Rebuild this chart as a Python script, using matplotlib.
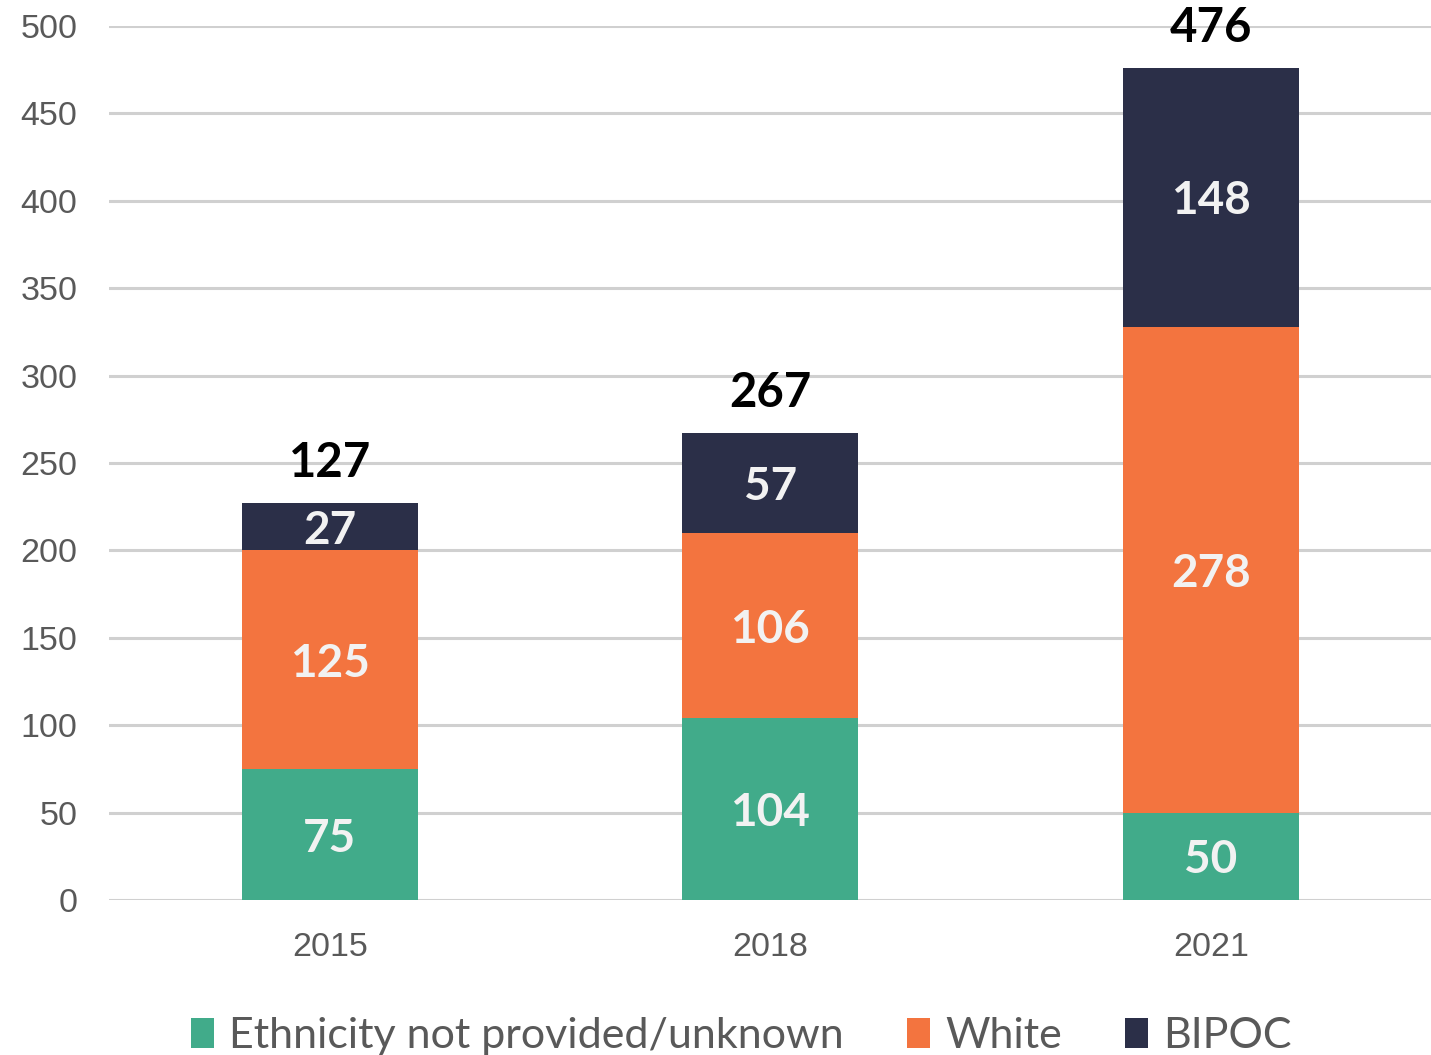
import matplotlib
matplotlib.use("Agg")
import matplotlib.pyplot as plt
from matplotlib.patches import Patch
import numpy as np

years = ["2015", "2018", "2021"]
unknown = [75, 104, 50]
white = [125, 106, 278]
bipoc = [27, 57, 148]
totals_text = ["127", "267", "476"]
series_names = ["Ethnicity not provided/unknown", "White", "BIPOC"]
colors = ["#41AB8A", "#F3743F", "#2B2F48"]

fig = plt.figure(figsize=(14.31, 10.55), dpi=100)
ax = fig.add_axes([0.0765, 0.1469, 0.9235, 0.8285])

x = np.arange(len(years))
width = 0.4
bottom = np.zeros(len(years))
for vals, col in zip([unknown, white, bipoc], colors):
    vals = np.array(vals, dtype=float)
    ax.bar(x, vals, width, bottom=bottom, color=col, zorder=3)
    for xi, b, v in zip(x, bottom, vals):
        ax.annotate(f"{int(v)}", (xi, b + v / 2), xytext=(0, -3),
                    textcoords="offset points", ha="center", va="center",
                    fontsize=33, fontweight="bold", family="Lato",
                    color="#F2F2F2", zorder=4)
    bottom += vals

for xi, top, lab in zip(x, bottom, totals_text):
    ax.annotate(lab, (xi, top), xytext=(0, 13), textcoords="offset points",
                ha="center", va="bottom", fontsize=34, fontweight="bold",
                family="Lato", color="black", annotation_clip=False)

ax.set_xlim(-0.5, 2.5)
ax.set_ylim(0, 500)
ax.set_yticks(np.arange(0, 501, 50))
ax.set_xticks(x)
ax.set_xticklabels(years)
ax.yaxis.grid(True, color="#D0D0D0", linewidth=2.2, zorder=0)
ax.set_axisbelow(True)
for s in ax.spines.values():
    s.set_visible(False)
ax.tick_params(axis="both", length=0, labelsize=24.5, labelcolor="#595959")
ax.tick_params(axis="y", pad=23)
ax.tick_params(axis="x", pad=23)
for lab in ax.get_xticklabels() + ax.get_yticklabels():
    lab.set_family("Liberation Sans")

handles = [Patch(facecolor=c, edgecolor="none") for c in colors]
fig.legend(handles, series_names, loc="center", bbox_to_anchor=(0.518, 0.018),
           ncol=3, frameon=False, handlelength=0.55, handleheight=0.7,
           handletextpad=0.35, columnspacing=1.45,
           prop={"family": "Lato", "size": 31}, labelcolor="#595959")

fig.savefig("out.png", dpi=100)
